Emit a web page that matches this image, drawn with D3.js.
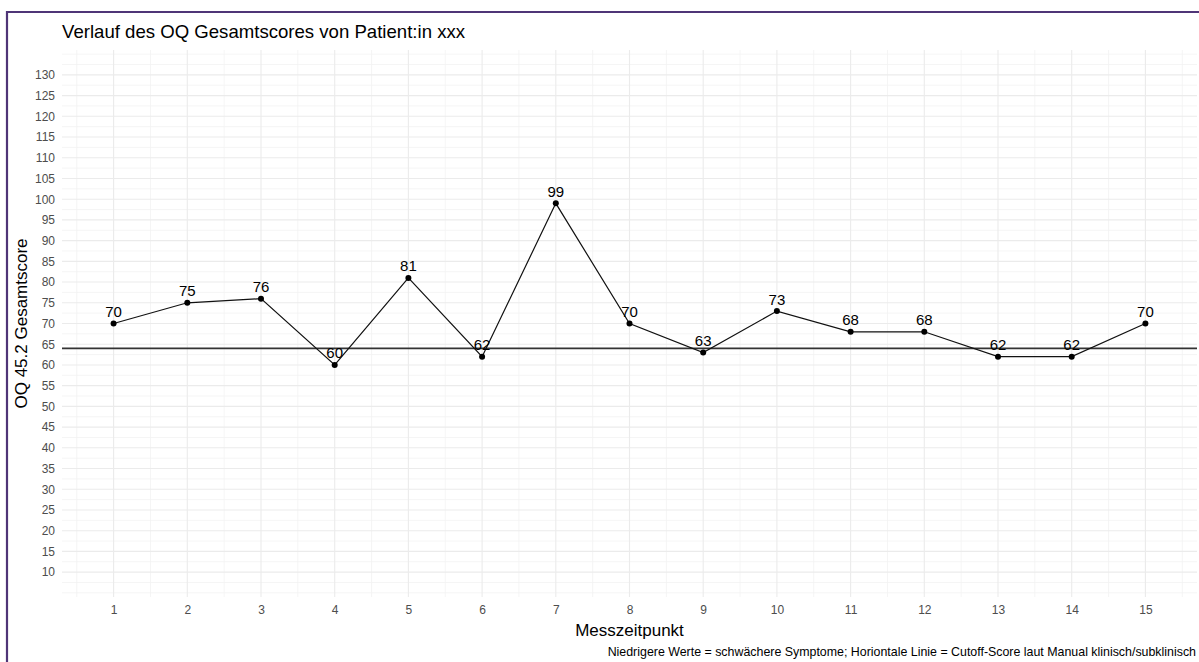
<!DOCTYPE html>
<html><head><meta charset="utf-8">
<script src="https://cdn.jsdelivr.net/npm/d3@7"></script>
<style>
html,body{margin:0;padding:0;background:#fff;}
svg{display:block;font-family:"Liberation Sans",Arial,sans-serif;}
</style></head>
<body><svg id="chart" width="1199" height="662"></svg>
<script>
const timepoints = [1,2,3,4,5,6,7,8,9,10,11,12,13,14,15];
const scores = [70,75,76,60,81,62,99,70,63,73,68,68,62,62,70];
const cutoff = 64;
const yTicks = d3.range(10, 131, 5);
const xTicks = timepoints;
const title = "Verlauf des OQ Gesamtscores von Patient:in xxx";
const xLabel = "Messzeitpunkt";
const yLabel = "OQ 45.2 Gesamtscore";
const caption = "Niedrigere Werte = schwächere Symptome; Horiontale Linie = Cutoff-Score laut Manual klinisch/subklinisch";

const svg = d3.select("#chart");
const L = 62, R = 1197, T = 50, B = 597;
const x = d3.scaleLinear().domain([0.3, 15.7]).range([L, R]);
const y = d3.scaleLinear().domain([4, 136]).range([B, T]);

// border
svg.append("path").attr("d", `M7,${662+5} L7,12 L${1199+5},12`)
  .attr("fill","none").attr("stroke","#4f3577").attr("stroke-width",2.2);

const g = svg.append("g");
// minor grid
const yMinor = d3.range(5, 136, 2.5).filter(v => !yTicks.includes(v) && v>=4 && v<=136);
const xMinor = d3.range(0.5, 15.6, 1);
g.selectAll(".ym").data(yMinor).join("line")
  .attr("x1",L).attr("x2",R).attr("y1",d=>y(d)).attr("y2",d=>y(d))
  .attr("stroke","#f2f2f2").attr("stroke-width",0.8);
g.selectAll(".xm").data(xMinor).join("line")
  .attr("y1",T).attr("y2",B).attr("x1",d=>x(d)).attr("x2",d=>x(d))
  .attr("stroke","#f2f2f2").attr("stroke-width",0.8);
// major grid
g.selectAll(".yM").data(yTicks).join("line")
  .attr("x1",L).attr("x2",R).attr("y1",d=>y(d)).attr("y2",d=>y(d))
  .attr("stroke","#ebebeb").attr("stroke-width",1.1);
g.selectAll(".xM").data(xTicks).join("line")
  .attr("y1",T).attr("y2",B).attr("x1",d=>x(d)).attr("x2",d=>x(d))
  .attr("stroke","#ebebeb").attr("stroke-width",1.1);

// axes (labels only)
const yAxis = d3.axisLeft(y).tickValues(yTicks).tickSize(0).tickPadding(7);
const ya = svg.append("g").attr("transform",`translate(${L},0)`).call(yAxis);
ya.select(".domain").remove();
ya.selectAll("text").attr("fill","#4d4d4d").style("font-size","12px").style("font-family","Liberation Sans, Arial, sans-serif");
const xAxis = d3.axisBottom(x).tickValues(xTicks).tickFormat(d3.format("d")).tickSize(0).tickPadding(8);
const xa = svg.append("g").attr("transform",`translate(0,${B})`).call(xAxis);
xa.select(".domain").remove();
xa.selectAll("text").attr("fill","#4d4d4d").style("font-size","12px").style("font-family","Liberation Sans, Arial, sans-serif");

// cutoff line
svg.append("line").attr("x1",L).attr("x2",R).attr("y1",y(cutoff)).attr("y2",y(cutoff))
  .attr("stroke","#333").attr("stroke-width",1.6);

// data line
const line = d3.line().x((d,i)=>x(timepoints[i])).y(d=>y(d));
svg.append("path").datum(scores).attr("d",line).attr("fill","none").attr("stroke","#111").attr("stroke-width",1.2);
svg.selectAll(".pt").data(scores).join("circle")
  .attr("cx",(d,i)=>x(timepoints[i])).attr("cy",d=>y(d)).attr("r",3).attr("fill","#000");
svg.selectAll(".lbl").data(scores).join("text")
  .attr("x",(d,i)=>x(timepoints[i])).attr("y",d=>y(d)-6.5)
  .attr("text-anchor","middle").attr("font-size","15px").attr("fill","#000").text(d=>d);

// texts
svg.append("text").attr("x",L).attr("y",38).attr("font-size","18.6px").attr("fill","#000").text(title);
svg.append("text").attr("x",(L+R)/2).attr("y",636).attr("text-anchor","middle").attr("font-size","17px").attr("fill","#000").text(xLabel);
svg.append("text").attr("transform",`translate(27,${(T+B)/2}) rotate(-90)`).attr("text-anchor","middle").attr("font-size","17px").attr("fill","#000").text(yLabel);
svg.append("text").attr("x",1196).attr("y",656).attr("text-anchor","end").attr("font-size","12.4px").attr("fill","#000").text(caption);
</script></body></html>
